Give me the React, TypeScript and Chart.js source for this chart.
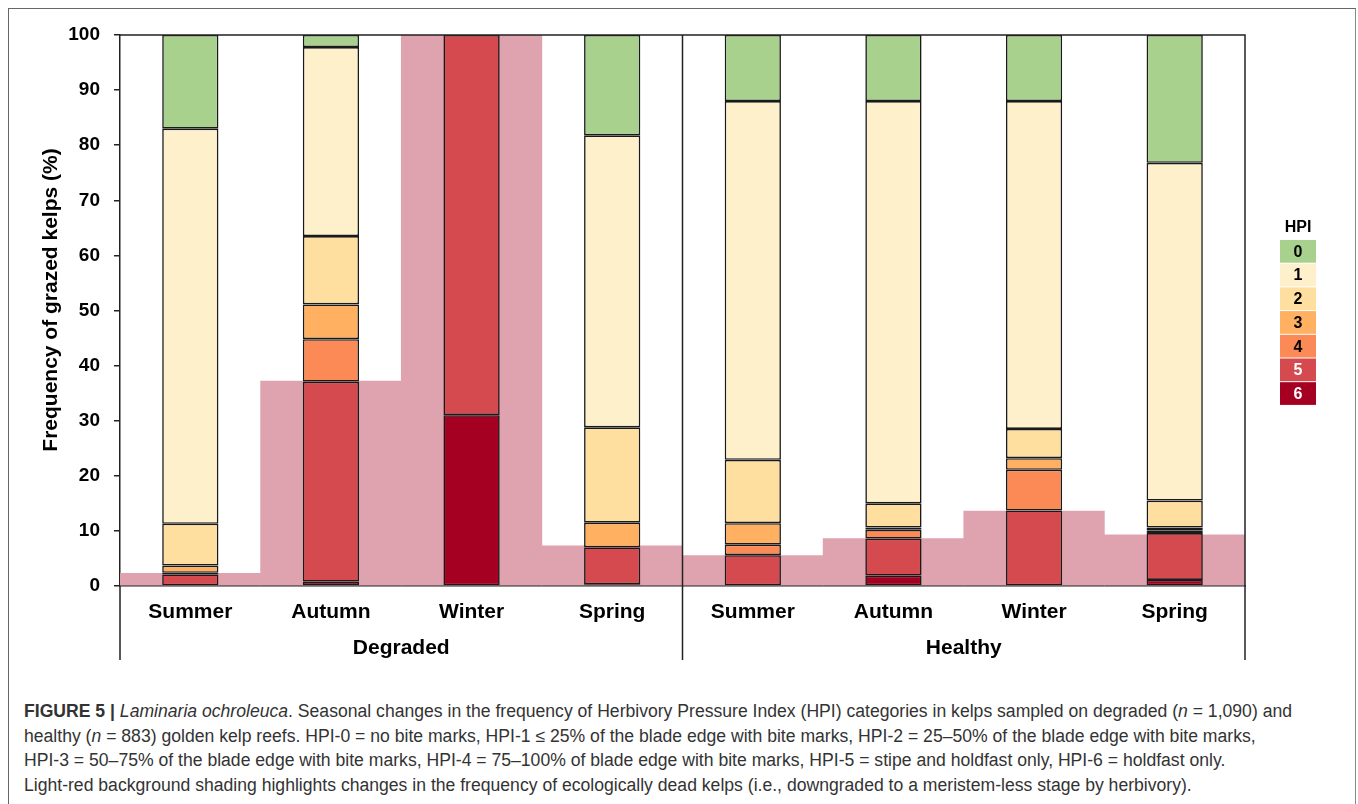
import React, { useEffect, useRef } from "react";
import { Chart, registerables } from "chart.js";
Chart.register(...registerables);

const categories = ["Summer", "Autumn", "Winter", "Spring", "Summer", "Autumn", "Winter", "Spring"];
const groups = ["Degraded", "Healthy"];
const hpiLabels = ["0", "1", "2", "3", "4", "5", "6"];
const hpi0 = [17.0, 2.2, 0, 18.2, 12.0, 12.0, 12.0, 23.2];
const hpi1 = [71.7, 34.3, 0, 53.0, 65.1, 73.0, 59.5, 61.3];
const hpi2 = [7.6, 12.4, 0, 17.3, 11.5, 4.4, 5.3, 4.9];
const hpi3 = [1.3, 6.3, 0, 4.5, 3.9, 0.4, 2.1, 0.5];
const hpi4 = [0.3, 7.7, 0, 0, 1.9, 1.6, 7.4, 0.5];
const hpi5 = [2.1, 36.3, 69.0, 6.7, 5.6, 6.7, 13.7, 8.5];
const hpi6 = [0, 0.8, 31.0, 0.3, 0, 1.9, 0, 1.1];
const deadKelps = [2.3, 37.2, 100, 7.3, 5.5, 8.6, 13.6, 9.3];
const hpiColors = ["#A9D18E", "#FFF0CC", "#FFDFA0", "#FFB061", "#FB8A56", "#D44A4E", "#A50021"];
const hpiTextColors = ["#000", "#000", "#000", "#000", "#000", "#fff", "#fff"];
const shadeColor = "#DFA3AF";
const yTitle = "Frequency of grazed kelps (%)";

const FONT = "'Liberation Sans', Arial, sans-serif";

export default function App() {
  const ref = useRef<HTMLCanvasElement | null>(null);
  useEffect(() => {
    document.body.style.margin = "0";
    const canvas = ref.current;
    if (!canvas) return;
    const series = [hpi0, hpi1, hpi2, hpi3, hpi4, hpi5, hpi6];
    const hpiSets = [6, 5, 4, 3, 2, 1, 0].map((i) => ({
      type: "bar" as const,
      label: "HPI " + hpiLabels[i],
      data: series[i],
      backgroundColor: hpiColors[i],
      borderColor: "#1a1a1a",
      borderWidth: 1.6,
      borderSkipped: false as const,
      barPercentage: 0.4,
      categoryPercentage: 1,
      grouped: false,
      stack: "hpi",
      order: 1,
    }));
    const shade = {
      type: "bar" as const,
      label: "dead",
      data: deadKelps,
      backgroundColor: shadeColor,
      borderWidth: 0,
      barPercentage: 1,
      categoryPercentage: 1,
      grouped: false,
      stack: "bg",
      order: 10,
    };
    const deco = {
      id: "deco",
      afterDraw(chart: any) {
        const ctx = chart.ctx;
        const a = chart.chartArea;
        const xs = chart.scales.x;
        ctx.save();
        ctx.strokeStyle = "#222";
        ctx.lineWidth = 1.5;
        ctx.beginPath();
        ctx.moveTo(a.left, a.top);
        ctx.lineTo(a.right, a.top);
        ctx.lineTo(a.right, 660);
        ctx.moveTo(a.left, a.bottom);
        ctx.lineTo(a.left, 660);
        const mid = (xs.getPixelForTick(3) + xs.getPixelForTick(4)) / 2;
        ctx.moveTo(mid, a.top);
        ctx.lineTo(mid, 660);
        ctx.stroke();
        // group labels
        ctx.fillStyle = "#000";
        ctx.font = "bold 21px " + FONT;
        ctx.textAlign = "center";
        ctx.textBaseline = "middle";
        groups.forEach((g, gi) => {
          const cx = (xs.getPixelForTick(gi * 4) + xs.getPixelForTick(gi * 4 + 3)) / 2;
          ctx.fillText(g, cx, 648);
        });
        // y title
        ctx.save();
        ctx.translate(51, 300);
        ctx.rotate(-Math.PI / 2);
        ctx.fillText(yTitle, 0, 0);
        ctx.restore();
        // legend
        const lx = a.right + 35;
        const bw = 36;
        const bh = 23.7;
        const ly = 240;
        ctx.font = "bold 16px " + FONT;
        ctx.fillStyle = "#000";
        ctx.fillText("HPI", lx + bw / 2, 228);
        hpiLabels.forEach((l, i) => {
          ctx.fillStyle = hpiColors[i];
          ctx.fillRect(lx, ly + i * bh, bw, bh - 1);
          ctx.fillStyle = hpiTextColors[i];
          ctx.fillText(l, lx + bw / 2, ly + i * bh + bh / 2 + 0.5);
        });
        ctx.restore();
      },
    };
    const chart = new Chart(canvas, {
      type: "bar",
      data: { labels: categories, datasets: [...hpiSets, shade] as any },
      options: {
        responsive: false,
        animation: false,
        devicePixelRatio: 1,
        layout: { padding: { left: 0, right: 113, top: 35, bottom: 0 } },
        plugins: { legend: { display: false }, tooltip: { enabled: false } },
        scales: {
          x: {
            type: "category",
            stacked: true,
            offset: true,
            grid: { display: false },
            border: { display: true, color: "#222", width: 1.5 },
            ticks: { color: "#000", font: { family: FONT, size: 21, weight: "bold" }, padding: 6, maxRotation: 0 },
            afterFit: (s: any) => { s.height = 94; },
          },
          y: {
            stacked: true,
            min: 0,
            max: 100,
            ticks: { stepSize: 10, color: "#000", font: { family: FONT, size: 19, weight: "bold" }, padding: 14 },
            grid: { drawOnChartArea: false, drawTicks: true, tickLength: 6, color: "#222", lineWidth: 1.5 },
            border: { display: true, color: "#222", width: 1.5 },
            afterFit: (s: any) => { s.width = 120; },
          },
        },
      } as any,
      plugins: [deco],
    });
    return () => chart.destroy();
  }, []);

  const cap: React.CSSProperties = {
    position: "absolute",
    left: 24,
    whiteSpace: "nowrap",
    fontFamily: FONT,
    fontSize: 17.6,
    color: "#333",
    lineHeight: "22px",
  };
  return (
    <div style={{ position: "relative", width: 1358, height: 804, background: "#fff", overflow: "hidden" }}>
      <div style={{ position: "absolute", left: 8, top: 8, width: 1346, height: 820, borderLeft: "1px solid #666", borderTop: "1px solid #666", borderRight: "1px solid #888" }} />
      <canvas ref={ref} width={1358} height={680} style={{ position: "absolute", left: 0, top: 0, width: 1358, height: 680 }} />
      <div style={{ ...cap, top: 700 }}>
        <b>FIGURE 5 |</b> <i>Laminaria ochroleuca</i>. Seasonal changes in the frequency of Herbivory Pressure Index (HPI) categories in kelps sampled on degraded (<i>n</i> = 1,090) and
      </div>
      <div style={{ ...cap, top: 724.5 }}>
        healthy (<i>n</i> = 883) golden kelp reefs. HPI-0 = no bite marks, HPI-1 ≤ 25% of the blade edge with bite marks, HPI-2 = 25–50% of the blade edge with bite marks,
      </div>
      <div style={{ ...cap, top: 749 }}>
        HPI-3 = 50–75% of the blade edge with bite marks, HPI-4 = 75–100% of blade edge with bite marks, HPI-5 = stipe and holdfast only, HPI-6 = holdfast only.
      </div>
      <div style={{ ...cap, top: 773.5 }}>
        Light-red background shading highlights changes in the frequency of ecologically dead kelps (i.e., downgraded to a meristem-less stage by herbivory).
      </div>
    </div>
  );
}
